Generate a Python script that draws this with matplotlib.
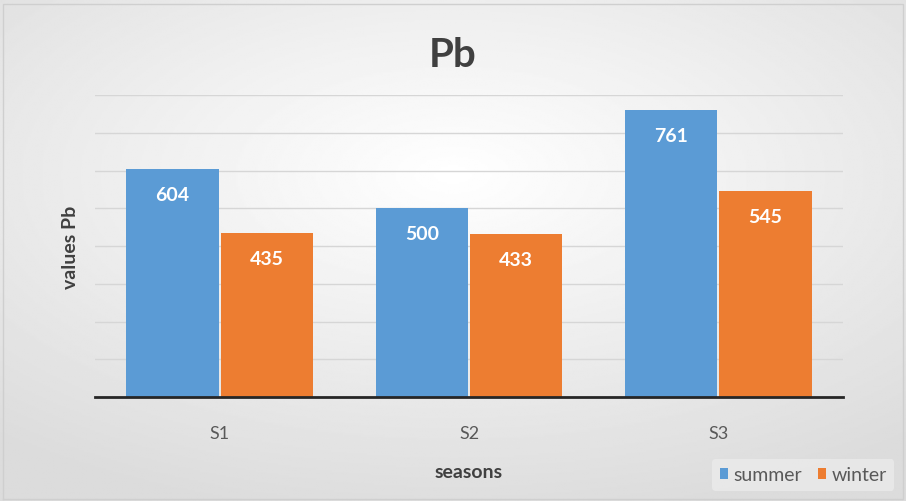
import numpy as np
import matplotlib.pyplot as plt

categories = ["S1", "S2", "S3"]
summer = [604, 500, 761]
winter = [435, 433, 545]

plt.rcParams['font.family'] = ['Lato', 'DejaVu Sans']

fig = plt.figure(figsize=(9.06, 5.02), dpi=100)

# radial gradient background
bg = fig.add_axes([0, 0, 1, 1], zorder=-10)
yy, xx = np.mgrid[-1:1:300j, -1:1:500j]
r = np.sqrt((xx * 0.9) ** 2 + (yy * 1.0 + 0.3) ** 2)
shade = 1.0 - 0.14 * np.clip(r, 0, 1.4) / 1.4
bg.imshow(shade, cmap='gray', vmin=0, vmax=1, aspect='auto', extent=[0, 1, 0, 1])
bg.plot([0.003, 0.997, 0.997, 0.003, 0.003], [0.003, 0.003, 0.99, 0.99, 0.003],
        color='#cfcfcf', lw=1)
bg.set_xlim(0, 1)
bg.set_ylim(0, 1)
bg.axis('off')

ax = fig.add_axes([95 / 906, 104 / 502, 748 / 906, 302 / 502])
ax.patch.set_alpha(0)

x = np.arange(len(categories))
w = 0.37
b1 = ax.bar(x - w / 2 - 0.004, summer, w, color='#5b9bd5', zorder=3)
b2 = ax.bar(x + w / 2 + 0.004, winter, w, color='#ed7d31', zorder=3)

for bars in (b1, b2):
    for b in bars:
        ax.text(b.get_x() + b.get_width() / 2, b.get_height() - 68, str(int(b.get_height())),
                ha='center', va='center', color='white', fontsize=14, fontweight='bold', zorder=4)

ax.set_xlim(-0.5, 2.5)
ax.set_ylim(0, 800)
ax.set_yticks(np.arange(0, 801, 100))
ax.set_yticklabels([])
ax.tick_params(axis='y', length=0)
ax.grid(axis='y', color='#d6d6d6', lw=1, zorder=0)
ax.set_xticks(x)
ax.set_xticklabels(categories, fontsize=13, color='#595959')
ax.tick_params(axis='x', length=0, pad=20)
for s in ['top', 'right', 'left']:
    ax.spines[s].set_visible(False)
ax.spines['bottom'].set_color('#262626')
ax.spines['bottom'].set_linewidth(2)
ax.spines['bottom'].set_zorder(5)

ax.set_xlabel("seasons", fontsize=14, fontweight='bold', color='#404040', labelpad=16)
ax.set_ylabel("values Pb", fontsize=14, fontweight='bold', color='#404040', labelpad=8)

fig.text(0.5, 0.89, "Pb", ha='center', va='center', fontsize=29, fontweight='bold', color='#404040')

leg = fig.legend([b1, b2], ["summer", "winter"], loc='lower right',
                 bbox_to_anchor=(0.998, 0.0), ncol=2, frameon=True,
                 fontsize=14, handlelength=0.4, handleheight=0.5, handletextpad=0.3,
                 columnspacing=0.8, borderpad=0.4)
leg.get_frame().set_facecolor('#ebebeb')
leg.get_frame().set_edgecolor('none')
for t in leg.get_texts():
    t.set_color('#595959')

fig.savefig("out.png", dpi=100)
